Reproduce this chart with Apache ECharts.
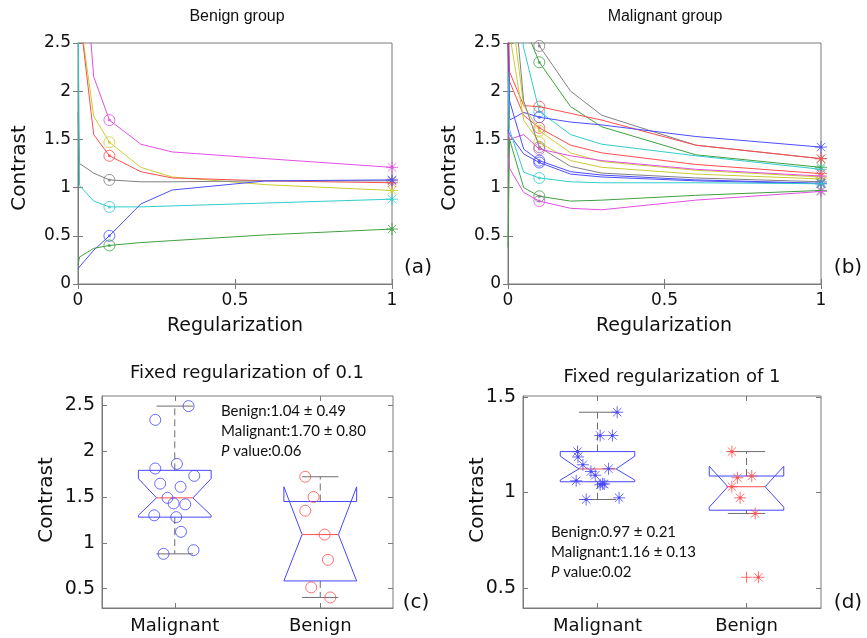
<!DOCTYPE html>
<html><head><meta charset="utf-8">
<script src="https://cdn.jsdelivr.net/npm/echarts@6/dist/echarts.min.js"></script>
<style>html,body{margin:0;padding:0;background:#fff}#c{width:867px;height:638px}</style>
</head><body><div id="c"></div>
<script>
// ---------------- DATA ----------------
const regX = [0, 0.005, 0.05, 0.1, 0.2, 0.3, 0.6, 1];
const benignCurveColors = ['#e050e0', '#cccc33', '#ff4d4d', '#808080', '#33cccc', '#4d4dff', '#3fa03f'];
const benignCurves = [
  [6, 4, 2.15, 1.70, 1.45, 1.37, 1.30, 1.21],
  [5, 2.8, 1.74, 1.47, 1.21, 1.11, 1.03, 0.97],
  [5, 2.8, 1.55, 1.33, 1.165, 1.10, 1.07, 1.05],
  [1.78, 1.25, 1.15, 1.08, 1.06, 1.06, 1.07, 1.07],
  [3, 1.02, 0.86, 0.80, 0.80, 0.81, 0.84, 0.88],
  [0.16, 0.18, 0.35, 0.50, 0.83, 0.975, 1.07, 1.08],
  [0.2, 0.28, 0.37, 0.40, 0.43, 0.45, 0.51, 0.57]
];
const malignantCurveColors = ['#808080', '#3fa03f', '#ff4d4d', '#33cccc', '#4d4dff', '#ff4d4d', '#cccc33',
  '#cccc33', '#808080', '#e050e0', '#4d4dff', '#4d4dff', '#33cccc', '#3fa03f', '#e050e0'];
const malignantCurves = [
  [5, 4, 3, 2.47, 2.00, 1.75, 1.44, 1.30],
  [5, 3.5, 2.7, 2.30, 1.84, 1.63, 1.34, 1.21],
  [3, 2.2, 1.85, 1.84, 1.77, 1.70, 1.44, 1.30],
  [5, 3.5, 2.45, 1.79, 1.55, 1.45, 1.33, 1.19],
  [2.5, 1.7, 1.78, 1.73, 1.68, 1.65, 1.53, 1.42],
  [2.6, 2.1, 1.75, 1.62, 1.44, 1.36, 1.24, 1.145],
  [5, 3, 1.85, 1.59, 1.36, 1.27, 1.18, 1.11],
  [4, 2.6, 1.7, 1.47, 1.28, 1.21, 1.14, 1.09],
  [5, 3.5, 1.9, 1.42, 1.22, 1.15, 1.10, 1.06],
  [1.6, 1.5, 1.55, 1.40, 1.33, 1.28, 1.19, 1.12],
  [2.5, 1.9, 1.40, 1.28, 1.165, 1.13, 1.08, 1.045],
  [1.6, 1.55, 1.35, 1.26, 1.14, 1.11, 1.07, 1.04],
  [2.2, 1.6, 1.16, 1.10, 1.06, 1.05, 1.05, 1.04],
  [0.38, 1.5, 1.0, 0.91, 0.86, 0.87, 0.92, 0.97],
  [1.35, 1.2, 0.95, 0.86, 0.785, 0.77, 0.87, 0.96]
];
const groups = ['Malignant', 'Benign'];
// box stats: [whiskerLow, q1, median, q3, whiskerHigh, notchLow, notchHigh]
const fixed01Malignant = [0.88, 1.28, 1.49, 1.79, 2.49, 1.30, 1.70];
const fixed01Benign = [0.405, 0.585, 1.09, 1.45, 1.72, 0.585, 1.61];
const fixed1Malignant = [0.963, 1.056, 1.123, 1.214, 1.42, 1.065, 1.19];
const fixed1Benign = [0.89, 0.907, 1.03, 1.086, 1.214, 0.923, 1.137];
const fixed1BenignOutliers = [0.556];
// individual points and their horizontal jitter
const fixed01MalignantPts = [2.49, 2.34, 1.86, 1.81, 1.73, 1.645, 1.61, 1.49, 1.43, 1.42, 1.30, 1.28, 1.12, 0.92, 0.88];
const fixed01MalignantJit = [0.095, -0.134, 0.015, -0.134, 0.134, -0.10, 0.04, -0.05, -0.008, 0.072, -0.141, 0.01, 0.043, 0.129, -0.077];
const fixed01BenignPts = [1.72, 1.50, 1.35, 1.09, 0.815, 0.515, 0.405];
const fixed01BenignJit = [-0.103, -0.046, -0.103, 0.03, 0.053, -0.062, 0.069];
const fixed1MalignantPts = [1.42, 1.298, 1.298, 1.214, 1.186, 1.145, 1.124, 1.11, 1.09, 1.04, 1.044, 1.061, 0.963, 0.972, 1.045];
const fixed1MalignantJit = [0.132, 0.018, 0.10, -0.134, -0.131, -0.098, 0.074, -0.044, -0.015, 0.018, 0.045, -0.143, -0.076, 0.145, 0.034];
const fixed1BenignPts = [1.214, 1.086, 1.077, 1.03, 0.972, 0.89, 0.556];
const fixed1BenignJit = [-0.098, 0.035, -0.061, -0.098, -0.043, 0.058, 0.08];
const ticksFixed01 = [0.5, 1, 1.5, 2, 2.5];
const ticksFixed1 = [0.5, 1, 1.5];
const notes01 = ['Benign:1.04 \u00b1 0.49', 'Malignant:1.70 \u00b1 0.80', 'value:0.06'];
const notes1 = ['Benign:0.97 \u00b1 0.21', 'Malignant:1.16 \u00b1 0.13', 'value:0.02'];

// ---------------- STYLE ----------------
const F = "'DejaVu Sans', 'Liberation Sans', sans-serif";
const FT = "'Liberation Sans', Arial, sans-serif";
const FC = "Lato, 'Noto Sans', sans-serif";
const AX = '#7a7a7a';
const TXT = '#111';
const BLUE = '#4646ff';
const RED = '#ff4d4d';
const ASTER = 'path://M5,0L5,10M0,5L10,5M1.5,1.5L8.5,8.5M1.5,8.5L8.5,1.5';
const PLUS = 'path://M5,0L5,10M0,5L10,5';

const chart = echarts.init(document.getElementById('c'), null, {renderer: 'canvas'});

const grids = [
  {left: 78, top: 43, width: 314, height: 241},
  {left: 508, top: 43, width: 313, height: 241},
  {left: 102, top: 396, width: 291, height: 212},
  {left: 523, top: 396, width: 298, height: 212}
].map(g => Object.assign({show: true, borderColor: AX, borderWidth: 1, backgroundColor: 'transparent'}, g));

function baseAxis(extra) {
  return Object.assign({
    type: 'value',
    axisLine: {show: true, onZero: false, lineStyle: {color: AX, width: 1}},
    axisTick: {show: true, inside: true, length: 5, lineStyle: {color: AX}},
    splitLine: {show: false},
    axisLabel: {color: TXT, fontFamily: F, fontSize: 17, margin: 7}
  }, extra);
}
function mirror(ax, pos) {
  const m = JSON.parse(JSON.stringify(ax));
  m.position = pos;
  m.axisLabel = {show: false};
  m.axisLine = {show: false};
  return m;
}

const xAxes = [], yAxes = [];
[0, 1].forEach(g => {
  const xa = baseAxis({gridIndex: g, min: 0, max: 1, interval: 0.5, position: 'bottom'});
  xa.axisLabel.margin = 8;
  const ya = baseAxis({gridIndex: g, min: 0, max: 2.5, interval: 0.5, position: 'left'});
  xAxes.push(xa); yAxes.push(ya);
});
const catFmt = v => groups[Math.round(v) - 1] || '';
[[2, 0.29, 2.6, ticksFixed01], [3, 0.395, 1.505, ticksFixed1]].forEach(([g, mn, mx, tk]) => {
  const xa = baseAxis({gridIndex: g, min: 0.5, max: 2.5, position: 'bottom'});
  xa.axisTick.customValues = [1, 2];
  xa.axisLabel = {color: TXT, fontFamily: F, fontSize: 18, margin: 9, customValues: [1, 2], formatter: catFmt};
  const ya = baseAxis({gridIndex: g, min: mn, max: mx, position: 'left'});
  ya.axisTick.customValues = tk;
  ya.axisLabel = {color: TXT, fontFamily: F, fontSize: 19, margin: 7, customValues: tk};
  xAxes.push(xa); yAxes.push(ya);
});
for (let g = 0; g < 4; g++) {
  xAxes.push(mirror(xAxes[g], 'top'));
  yAxes.push(mirror(yAxes[g], 'right'));
}

const series = [];
function curveSeries(curves, colors, ai) {
  const iMark = regX.indexOf(0.1), iEnd = regX.length - 1;
  curves.forEach((vals, k) => {
    const c = colors[k];
    series.push({type: 'line', xAxisIndex: ai, yAxisIndex: ai, data: regX.map((x, i) => [x, vals[i]]),
      symbol: 'none', showSymbol: false, lineStyle: {color: c, width: 1}, silent: true, animation: false, clip: true});
    series.push({type: 'scatter', xAxisIndex: ai, yAxisIndex: ai, silent: true, animation: false, data: [
      {value: [regX[iMark], vals[iMark]], symbol: 'circle', symbolSize: 11, itemStyle: {color: 'rgba(0,0,0,0)', borderColor: c, borderWidth: 1}},
      {value: [regX[iEnd], vals[iEnd]], symbol: ASTER, symbolSize: 12, itemStyle: {color: 'rgba(0,0,0,0)', borderColor: c, borderWidth: 1}},
      {value: [regX[iMark], vals[iMark]], symbol: 'circle', symbolSize: 3, itemStyle: {color: c}},
      {value: [regX[iEnd], vals[iEnd]], symbol: 'circle', symbolSize: 3, itemStyle: {color: c}}
    ]});
  });
}
curveSeries(benignCurves, benignCurveColors, 0);
curveSeries(malignantCurves, malignantCurveColors, 1);

function boxRender(params, api) {
  const x = api.value(0);
  const v = [1, 2, 3, 4, 5, 6, 7].map(i => api.value(i));
  const [wl, q1, md, q3, wh, nl, nh] = v;
  const hw = 0.25, nw = 0.125, cw = 0.125;
  const P = (xx, yy) => api.coord([xx, yy]);
  const wStyle = {stroke: '#6e6e6e', lineWidth: 1, lineDash: [7, 4], fill: null};
  const cStyle = {stroke: '#6e6e6e', lineWidth: 1, fill: null};
  const line = (a, b, style) => ({type: 'line', shape: {x1: a[0], y1: a[1], x2: b[0], y2: b[1]}, style});
  return {type: 'group', children: [
    line(P(x, q3), P(x, wh), wStyle),
    line(P(x, q1), P(x, wl), wStyle),
    line(P(x - cw, wh), P(x + cw, wh), cStyle),
    line(P(x - cw, wl), P(x + cw, wl), cStyle),
    {type: 'polygon', shape: {points: [P(x - hw, q1), P(x - hw, nl), P(x - nw, md), P(x - hw, nh), P(x - hw, q3),
      P(x + hw, q3), P(x + hw, nh), P(x + nw, md), P(x + hw, nl), P(x + hw, q1)]},
      style: {fill: null, stroke: BLUE, lineWidth: 1}},
    line(P(x - nw, md), P(x + nw, md), {stroke: RED, lineWidth: 1})
  ]};
}
function boxSeries(ai, stats) {
  series.push({type: 'custom', xAxisIndex: ai, yAxisIndex: ai, silent: true, animation: false, clip: true,
    renderItem: boxRender, data: stats.map((s, i) => [i + 1].concat(s))});
}
function ptsSeries(ai, gi, pts, jit, color, sym) {
  const data = pts.map((p, i) => [gi + 1 + jit[i], p]);
  series.push({type: 'scatter', xAxisIndex: ai, yAxisIndex: ai, silent: true, animation: false,
    symbol: sym === 'o' ? 'circle' : ASTER, symbolSize: sym === 'o' ? 11 : 12,
    itemStyle: {color: 'rgba(0,0,0,0)', borderColor: color, borderWidth: 1}, data});
  if (sym !== 'o') {
    series.push({type: 'scatter', xAxisIndex: ai, yAxisIndex: ai, silent: true, animation: false,
      symbol: 'circle', symbolSize: 3, itemStyle: {color}, data});
  }
}
boxSeries(2, [fixed01Malignant, fixed01Benign]);
ptsSeries(2, 0, fixed01MalignantPts, fixed01MalignantJit, BLUE, 'o');
ptsSeries(2, 1, fixed01BenignPts, fixed01BenignJit, RED, 'o');
boxSeries(3, [fixed1Malignant, fixed1Benign]);
series.push({type: 'scatter', xAxisIndex: 3, yAxisIndex: 3, silent: true, animation: false, symbol: PLUS, symbolSize: 11,
  itemStyle: {color: 'rgba(0,0,0,0)', borderColor: RED, borderWidth: 1}, data: fixed1BenignOutliers.map(v => [2, v])});
ptsSeries(3, 0, fixed1MalignantPts, fixed1MalignantJit, BLUE, '*');
ptsSeries(3, 1, fixed1BenignPts, fixed1BenignJit, RED, '*');

function txt(text, x, y, size, opts) {
  return Object.assign({type: 'text', x, y, silent: true,
    style: Object.assign({text, fontSize: size, fontFamily: F, fill: TXT, align: 'center', verticalAlign: 'middle'}, (opts && opts.style) || {})},
    opts && opts.rotation ? {rotation: opts.rotation} : {});
}
function note(lines, x, y) {
  return {type: 'text', x, y, silent: true, style: {
    text: lines[0] + '\n' + lines[1] + '\n{i|P} ' + lines[2], fontFamily: FC, fontSize: 15, lineHeight: 20, fill: TXT,
    align: 'left', verticalAlign: 'top', rich: {i: {fontStyle: 'italic', fontFamily: FC, fontSize: 15, fill: TXT}}}};
}
const graphic = [
  txt('Benign group', 237, 17, 16, {style: {fontFamily: FT}}),
  txt('Malignant group', 665, 17, 16, {style: {fontFamily: FT}}),
  txt('Contrast', 20, 168, 20, {rotation: Math.PI / 2}),
  txt('Contrast', 450, 168, 20, {rotation: Math.PI / 2}),
  txt('Regularization', 235, 326, 19),
  txt('Regularization', 664, 326, 19),
  txt('(a)', 418, 268, 20),
  txt('(b)', 848, 268, 20),
  txt('Fixed regularization of 0.1', 247, 373, 18),
  txt('Fixed regularization of 1', 672, 377, 18),
  txt('Contrast', 47, 500, 20, {rotation: Math.PI / 2}),
  txt('Contrast', 478, 500, 20, {rotation: Math.PI / 2}),
  txt('(c)', 416, 603, 20),
  txt('(d)', 848, 603, 20),
  note(notes01, 221, 401),
  note(notes1, 551, 522)
];

chart.setOption({animation: false, grid: grids, xAxis: xAxes, yAxis: yAxes, series, graphic});
</script></body></html>
